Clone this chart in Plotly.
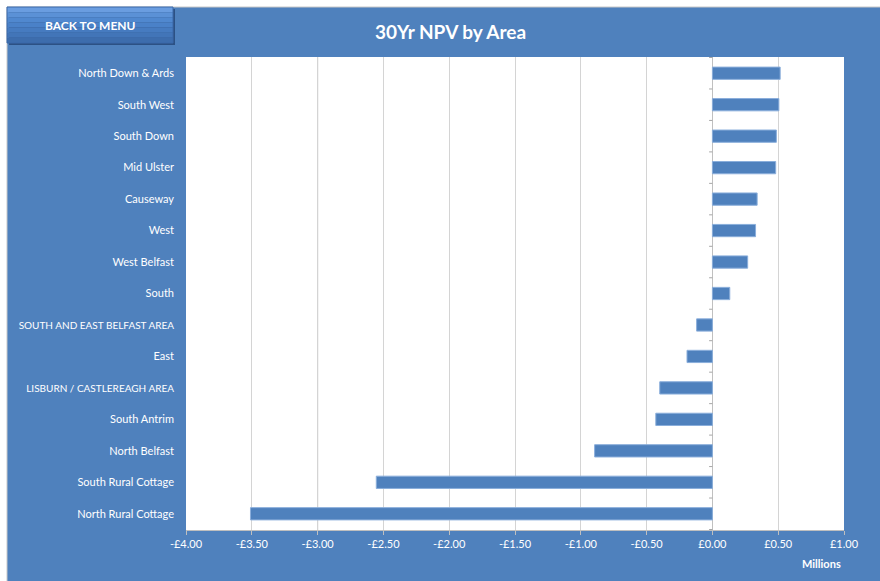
import plotly.graph_objects as go

# Areas listed top to bottom, with 30-year NPV in £ millions
areas = [
    "North Down & Ards", "South West", "South Down", "Mid Ulster", "Causeway",
    "West", "West Belfast", "South", "SOUTH AND EAST BELFAST AREA", "East",
    "LISBURN / CASTLEREAGH AREA", "South Antrim", "North Belfast",
    "South Rural Cottage", "North Rural Cottage",
]
npv_millions = [
    0.515, 0.505, 0.486, 0.481, 0.340,
    0.328, 0.268, 0.132, -0.120, -0.193,
    -0.400, -0.430, -0.895,
    -2.554, -3.510,
]
tick_vals = [-4.0, -3.5, -3.0, -2.5, -2.0, -1.5, -1.0, -0.5, 0.0, 0.5, 1.0]
tick_text = ["-£4.00", "-£3.50", "-£3.00", "-£2.50", "-£2.00", "-£1.50",
             "-£1.00", "-£0.50", "£0.00", "£0.50", "£1.00"]

BLUE = "#4f81bd"
FONT = "Lato"
W, H = 880, 581
L, R, T, B = 186, 36, 57, 51
pw, ph = W - L - R, H - T - B


def px_x(p):
    return (p - L) / pw


def px_y(p):
    return (H - B - p) / ph


# all-caps area names are set a touch smaller so they fit the margin
area_labels = [
    f"<span style='font-size:10px'>{a}</span>" if a.isupper() else a
    for a in areas
]

fig = go.Figure(go.Bar(
    x=npv_millions,
    y=areas,
    orientation="h",
    marker=dict(color=BLUE, line=dict(color="#8aaedb", width=1)),
    hovertemplate="%{y}: £%{x:.2f}m<extra></extra>",
))

shapes = []
# white strips along the top and left edge of the sheet
shapes.append(dict(type="rect", xref="paper", yref="paper",
                   x0=px_x(0), x1=px_x(W), y0=px_y(0), y1=px_y(7),
                   fillcolor="white", line=dict(width=0), layer="above"))
shapes.append(dict(type="rect", xref="paper", yref="paper",
                   x0=px_x(0), x1=px_x(7), y0=px_y(0), y1=px_y(H),
                   fillcolor="white", line=dict(width=0), layer="above"))
shapes.append(dict(type="line", xref="paper", yref="paper",
                   x0=px_x(7), x1=px_x(W), y0=px_y(7), y1=px_y(7),
                   line=dict(color="#c8c8c8", width=1)))
shapes.append(dict(type="line", xref="paper", yref="paper",
                   x0=px_x(7), x1=px_x(7), y0=px_y(7), y1=px_y(H),
                   line=dict(color="#c8c8c8", width=1)))

# "back to menu" button: drop shadow plus shaded face
shapes.append(dict(type="rect", xref="paper", yref="paper",
                   x0=px_x(9), x1=px_x(175), y0=px_y(9), y1=px_y(45),
                   fillcolor="#2c5184", line=dict(width=0)))
band_colors = ["#6a9de0", "#5b91d6", "#5088cf", "#4a81c8", "#467bc0", "#4275b8", "#3d6dad"]
top, bottom = 7, 43
step = (bottom - top) / len(band_colors)
for i, c in enumerate(band_colors):
    shapes.append(dict(type="rect", xref="paper", yref="paper",
                       x0=px_x(7), x1=px_x(173),
                       y0=px_y(top + step * (i + 1)), y1=px_y(top + step * i),
                       fillcolor=c, line=dict(width=0)))
shapes.append(dict(type="rect", xref="paper", yref="paper",
                   x0=px_x(7), x1=px_x(173), y0=px_y(43), y1=px_y(7),
                   fillcolor="rgba(0,0,0,0)", line=dict(color="#3a69a8", width=1)))

# darker gridline at -£3.00
shapes.append(dict(type="line", xref="x", yref="paper",
                   x0=-3.0, x1=-3.0, y0=0, y1=1,
                   line=dict(color="#8c8c8c", width=1), layer="between"))

# category tick marks on the zero axis
for i in range(len(areas) + 1):
    shapes.append(dict(type="line", xref="x", yref="y",
                       x0=-0.025, x1=0, y0=i - 0.5, y1=i - 0.5,
                       line=dict(color="#a6a6a6", width=1)))

fig.update_layout(
    width=W, height=H,
    margin=dict(l=L, r=R, t=T, b=B, pad=0, autoexpand=False),
    paper_bgcolor=BLUE,
    plot_bgcolor="white",
    showlegend=False,
    bargap=0.61,
    font=dict(family=FONT, color="white", size=11),
    shapes=shapes,
    annotations=[
        dict(text="<b>30Yr NPV by Area</b>", xref="paper", yref="paper",
             x=px_x(450), y=px_y(31), xanchor="center", yanchor="middle",
             showarrow=False, font=dict(size=19, color="white", family=FONT)),
        dict(text="<b>BACK TO MENU</b>", xref="paper", yref="paper",
             x=px_x(90), y=px_y(26), xanchor="center", yanchor="middle",
             showarrow=False, font=dict(size=12, color="white", family=FONT)),
        dict(text="<b>Millions</b>", xref="paper", yref="paper",
             x=px_x(821), y=px_y(563), xanchor="center", yanchor="middle",
             showarrow=False, font=dict(size=11, color="white", family=FONT)),
    ],
    xaxis=dict(
        range=[-4, 1],
        automargin=False,
        tickvals=tick_vals, ticktext=tick_text,
        showgrid=True, gridcolor="#d4d4d4", gridwidth=1,
        zeroline=True, zerolinecolor="#c0c0c0", zerolinewidth=1,
        showline=True, linecolor="#bfbfbf", linewidth=1,
        ticks="outside", ticklen=4, tickcolor="#bfbfbf",
        tickfont=dict(size=11, color="white", family=FONT),
        fixedrange=True,
    ),
    yaxis=dict(
        autorange="reversed",
        automargin=False,
        tickmode="array", tickvals=areas, ticktext=area_labels,
        showgrid=False, zeroline=False, showline=False,
        ticks="", ticklabelstandoff=11,
        tickfont=dict(size=11, color="white", family=FONT),
        fixedrange=True,
    ),
)

fig.write_html("out.html")
